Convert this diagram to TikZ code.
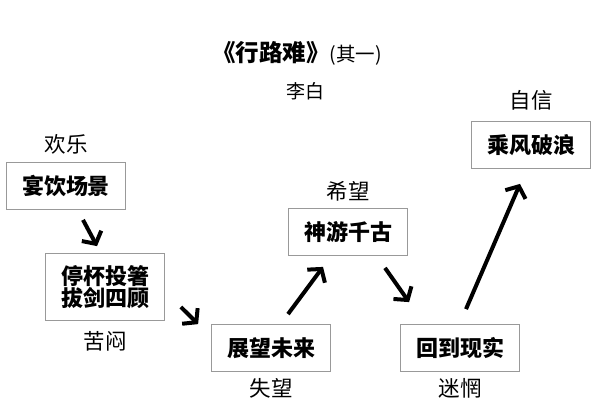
\documentclass[tikz,border=0pt]{standalone}
\usepackage{fontspec}
\setmainfont{Noto Sans CJK SC}
\usetikzlibrary{arrows.meta}

\begin{document}
\begin{tikzpicture}[x=1pt, y=-1pt,
  scene/.style={draw=gray!80, line width=0.8pt, align=center, minimum width=119pt, minimum height=47pt, inner sep=0pt, font=\fontsize{22}{22.5}\selectfont\bfseries},
  mood/.style={font=\fontsize{21.5}{23}\selectfont},
  flow/.style={line width=4pt, -{Straight Barb[length=9pt, width=22pt]}}]
\useasboundingbox (0,0) rectangle (600,407);
% title
\node (title) at (297,53) {\fontsize{23.5}{26}\selectfont\bfseries 《行路难》\mdseries\fontsize{19.5}{22}\selectfont(其一)};
\node[font=\fontsize{19}{21}\selectfont] (poet) at (305,91) {李白};
% scenes
\node[scene] (feast) at (66,186) {宴饮场景};
\node[scene, minimum height=67pt] (stop) at (105,287) {停杯投箸\\拔剑四顾};
\node[scene] (future) at (271,348) {展望未来};
\node[scene] (ancient) at (348,232) {神游千古};
\node[scene] (real) at (460,348) {回到现实};
\node[scene] (wind) at (531,145) {乘风破浪};
% moods
\node[mood] (joy) at (66,144) {欢乐};
\node[mood] (gloom) at (105,341) {苦闷};
\node[mood] (letdown) at (271,388) {失望};
\node[mood] (hope) at (348,191) {希望};
\node[mood] (lost) at (460,388) {迷惘};
\node[mood] (trust) at (531,100) {自信};
% arrows
\draw[flow] ([xshift=17pt, yshift=-10pt]feast.south) -- ([xshift=-8pt, yshift=7pt]stop.north);
\draw[flow] ([xshift=16pt, yshift=-20pt]stop.east) -- ([xshift=-13pt]future.north west);
\draw[flow] ([xshift=17pt, yshift=10pt]future.north) -- ([xshift=-25pt, yshift=-11pt]ancient.south);
\draw[flow] ([xshift=37pt, yshift=-12pt]ancient.south) -- ([xshift=9pt, yshift=22pt]real.north west);
\draw[flow] ([xshift=6pt, yshift=15pt]real.north) -- ([xshift=-11pt, yshift=-15pt]wind.south);
\end{tikzpicture}
\end{document}
